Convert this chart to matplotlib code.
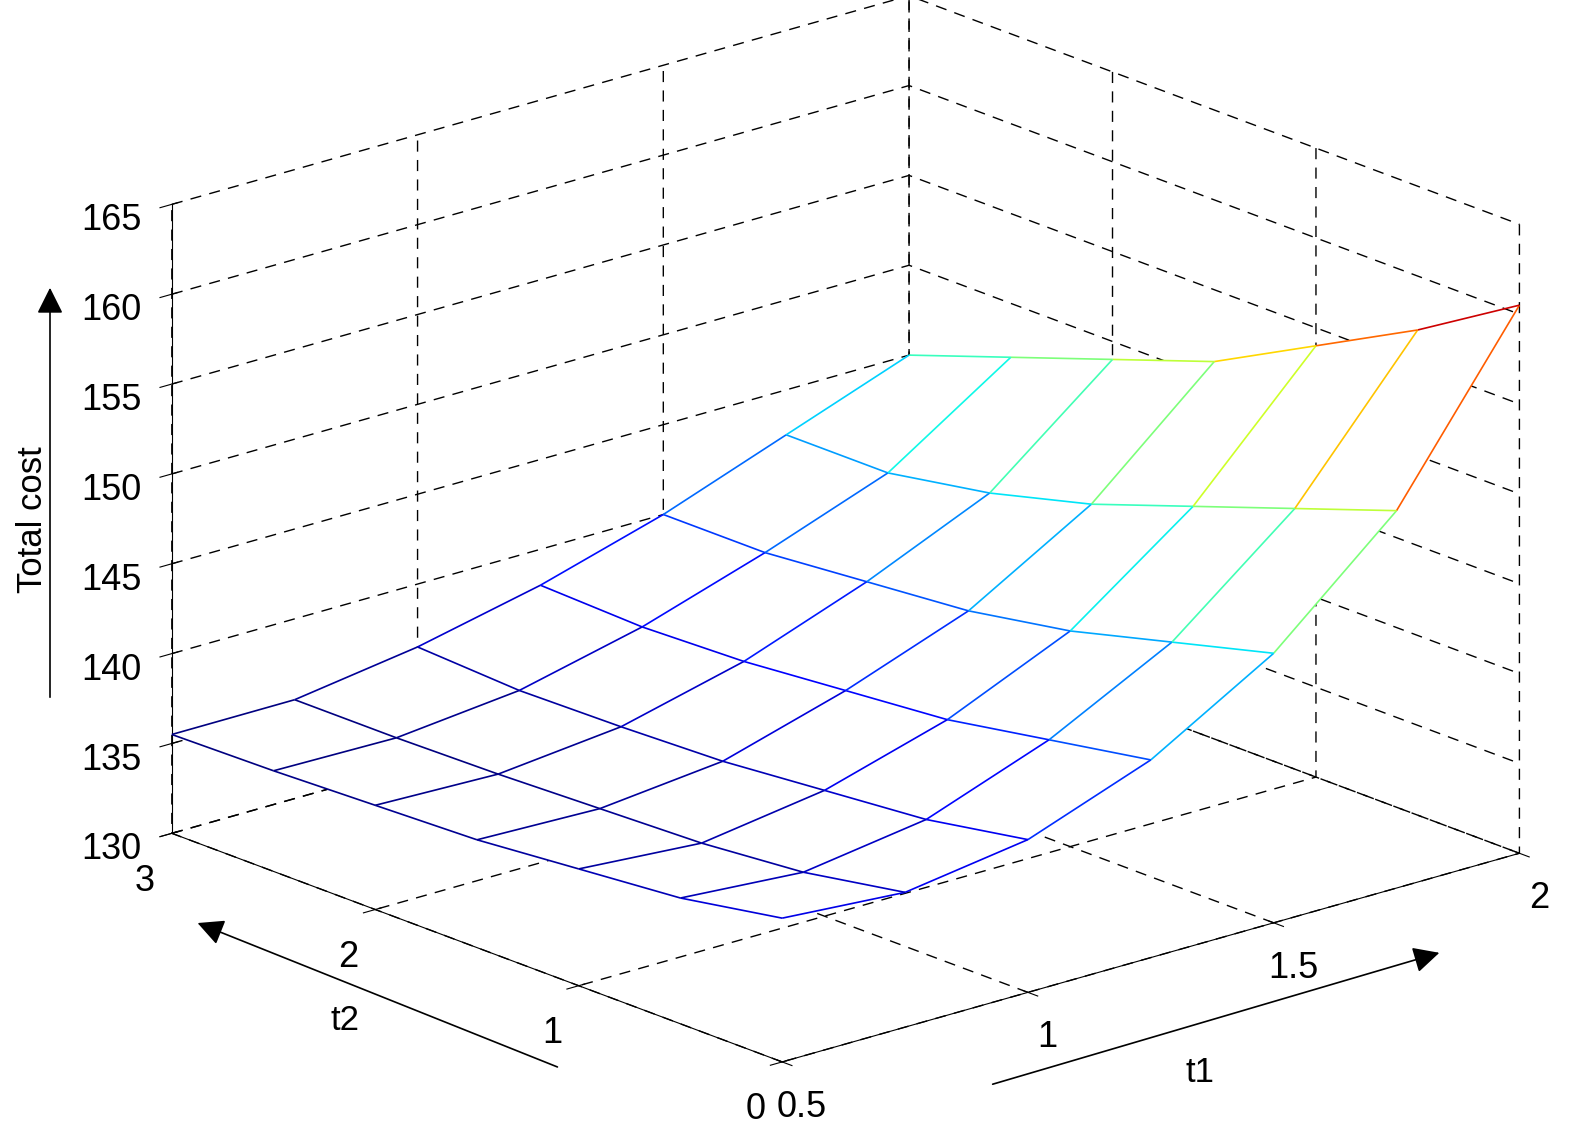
import numpy as np
import matplotlib
matplotlib.use("Agg")
import matplotlib.pyplot as plt
from matplotlib import cm, colors
from mpl_toolkits.mplot3d.art3d import Line3DCollection

plt.rcParams['font.family'] = ['Liberation Sans', 'DejaVu Sans']

t1 = [0.5, 0.75, 1.0, 1.25, 1.5, 1.75, 2.0]
t2 = [0.0, 0.5, 1.0, 1.5, 2.0, 2.5, 3.0]
# rows: t2, cols: t1
cost = [
    [138.0, 137.5, 138.5, 141.0, 145.0, 151.0, 160.5],
    [137.0, 136.5, 137.5, 140.0, 143.5, 149.0, 157.0],
    [136.5, 136.0, 137.0, 139.0, 142.0, 147.0, 154.0],
    [136.0, 135.8, 136.5, 138.5, 141.0, 145.0, 151.0],
    [135.8, 135.6, 136.3, 138.0, 140.5, 143.5, 149.0],
    [135.6, 135.5, 136.2, 137.8, 140.0, 142.5, 147.0],
    [135.5, 135.5, 136.5, 138.0, 140.0, 142.5, 145.0],
]
zticks = [130, 135, 140, 145, 150, 155, 160, 165]

X, Y = np.meshgrid(t1, t2)
Z = np.array(cost)

W, H = 1592, 1134
fig = plt.figure(figsize=(W / 100, H / 100), dpi=100)
ax = fig.add_axes([-0.04, -0.062, 1.12, 1.16], projection='3d', proj_type='ortho')
ax.view_init(elev=19, azim=-131)

ax.plot_surface(X, Y, Z, color='white', shade=False, linewidth=0, edgecolor='none')

norm = colors.Normalize(vmin=Z.min(), vmax=Z.max())
segs, cols = [], []
nr, nc = Z.shape
for i in range(nr):
    for j in range(nc):
        p = (X[i, j], Y[i, j], Z[i, j])
        if j + 1 < nc:
            q = (X[i, j + 1], Y[i, j + 1], Z[i, j + 1])
            segs.append([p, q]); cols.append(cm.jet(norm((p[2] + q[2]) / 2)))
        if i + 1 < nr:
            q = (X[i + 1, j], Y[i + 1, j], Z[i + 1, j])
            segs.append([p, q]); cols.append(cm.jet(norm((p[2] + q[2]) / 2)))
lc = Line3DCollection(segs, colors=cols, linewidths=1.2)
lc.set_zorder(10)
ax.add_collection3d(lc)
lc.set_clip_on(False)
ax.computed_zorder = False

ax.set_xlim(0.5, 2)
ax.set_ylim(0, 3)
ax.set_zlim(130, 165)
ax.set_xticks([0.5, 1, 1.5, 2])
ax.set_xticklabels(['0.5', '1', '1.5', '2'])
ax.set_yticks([0, 1, 2, 3])
ax.set_zticks(zticks)
for a in (ax.xaxis, ax.yaxis, ax.zaxis):
    a.set_pane_color((1, 1, 1, 0))
    a._axinfo['grid'].update(color='black', linestyle=(0, (8, 6)), linewidth=1.0)
    a.line.set_color('black')
ax.tick_params(labelsize=26)
ax.tick_params(axis='x', pad=8)
ax.tick_params(axis='y', pad=10)
ax.tick_params(axis='z', pad=14)
ax.set_box_aspect((1.05, 1, 0.715), zoom=1.11)

def fx(px): return px / W
def fy(py): return 1 - py / H

fig.text(fx(32), fy(520), 'Total cost', rotation=90, fontsize=25, va='center', ha='center')
fig.text(fx(345), fy(1020), 't2', fontsize=25, ha='center', va='center')
fig.text(fx(1200), fy(1072), 't1', fontsize=25, ha='center', va='center')
arrow = dict(arrowstyle='-|>', color='black', lw=1.2, mutation_scale=40)
fig.add_artist(matplotlib.patches.FancyArrowPatch((fx(50), fy(700)), (fx(50), fy(285)), transform=fig.transFigure, **arrow))
fig.add_artist(matplotlib.patches.FancyArrowPatch((fx(560), fy(1068)), (fx(195), fy(922)), transform=fig.transFigure, **arrow))
fig.add_artist(matplotlib.patches.FancyArrowPatch((fx(990), fy(1085)), (fx(1442), fy(952)), transform=fig.transFigure, **arrow))
fig.savefig('out.png', dpi=100)
